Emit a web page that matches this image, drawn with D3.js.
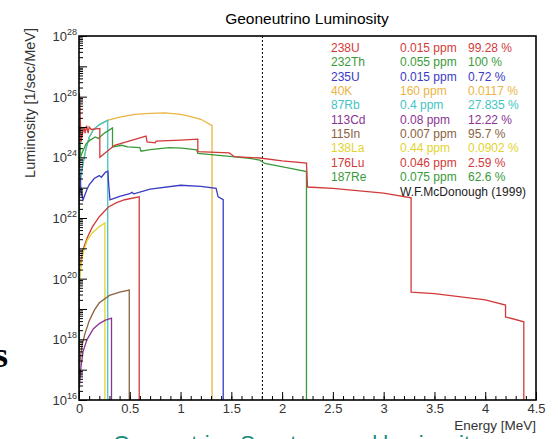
<!DOCTYPE html>
<html>
<head>
<meta charset="utf-8">
<script src="https://cdn.jsdelivr.net/npm/d3@7"></script>
<style>
body { margin: 0; background: #fff; }
svg { display: block; font-family: "Liberation Sans", Arial, sans-serif; }
</style>
</head>
<body>
<div id="chart"></div>
<script>
// legend table
const isotopes = ["238U", "232Th", "235U", "40K", "87Rb", "113Cd", "115In", "138La", "176Lu", "187Re"];
const abundance = ["0.015 ppm", "0.055 ppm", "0.015 ppm", "160 ppm", "0.4 ppm", "0.08 ppm", "0.007 ppm", "0.44 ppm", "0.046 ppm", "0.075 ppm"];
const isoFraction = ["99.28 %", "100 %", "0.72 %", "0.0117 %", "27.835 %", "12.22 %", "95.7 %", "0.0902 %", "2.59 %", "62.6 %"];
const colors = ["#d23a3a", "#3a9a3a", "#3a3ac4", "#eab444", "#44c4c4", "#8a3494", "#8a6242", "#e2d42e", "#d23a3a", "#3a9a3a"];

const xTicks = [0, 0.5, 1, 1.5, 2, 2.5, 3, 3.5, 4, 4.5];
const yExponents = [16, 18, 20, 22, 24, 26, 28];
const threshold = 1.806;

// spectra, [energy MeV, luminosity 1/sec/MeV]
const u238 = [[0, 3.2e25], [0.004, 1.3e26], [0.01, 4e25], [0.02, 3.2e24], [0.035, 6.3e24], [0.05, 1e25],
  [0.06, 6.3e24], [0.075, 1.1e25], [0.09, 6.3e24], [0.1, 1e25], [0.12, 8.3e24], [0.205, 9e24],
  [0.205, 1e24], [0.35, 2.5e24], [0.5, 3.5e24], [0.66, 5e24], [0.67, 3.2e24], [0.75, 3e24],
  [0.76, 3.4e24], [1.0, 3.7e24], [1.17, 4e24], [1.17, 1.55e24], [1.48, 1.4e24], [1.53, 1.05e24],
  [1.78, 9.5e23], [2.0, 7.6e23], [2.24, 6.4e23], [2.25, 1.05e23], [2.5, 9.5e22], [3.0, 6.6e22],
  [3.27, 4.6e22], [3.27, 3.6e19], [3.5, 3.2e19], [4.0, 2e19], [4.2, 1.35e19], [4.2, 5.5e18],
  [4.38, 3.8e18], [4.38, 1e16]];
const th232 = [[0, 4e25], [0.003, 1e26], [0.008, 1.6e25], [0.015, 1e24], [0.03, 1.4e24], [0.07, 2.8e24],
  [0.11, 3.7e24], [0.16, 4.7e24], [0.19, 4.2e24], [0.25, 6.3e24], [0.33, 9.3e24], [0.33, 2.2e24],
  [0.42, 2.5e24], [0.48, 2.2e24], [0.6, 2.1e24], [0.61, 1.6e24], [0.7, 1.8e24], [0.89, 2.1e24],
  [1.01, 2e24], [1.16, 1.75e24], [1.17, 1.35e24], [1.51, 1.05e24], [1.68, 9.3e23], [1.78, 8.1e23],
  [1.83, 6.3e23], [2.07, 4.4e23], [2.24, 3.4e23], [2.24, 1e16]];
const u235 = [[0.002, 2e24], [0.008, 3.2e23], [0.02, 8e22], [0.04, 4e22], [0.08, 9e22], [0.1, 1.25e23],
  [0.15, 2e23], [0.2, 2.5e23], [0.22, 2.2e23], [0.26, 3.2e23], [0.285, 3.5e23], [0.29, 1.6e23],
  [0.305, 4e22], [0.4, 5.2e22], [0.5, 6.3e22], [0.52, 7e22], [0.54, 6.3e22], [0.7, 9e22],
  [1.0, 1.2e23], [1.2, 1.1e23], [1.35, 9.5e22], [1.37, 5e22], [1.42, 4e22], [1.42, 1e16]];
const k40 = [[0.005, 6.3e22], [0.02, 2.5e23], [0.04, 6.3e23], [0.07, 2e24], [0.1, 4.5e24], [0.14, 8e24],
  [0.2, 1.2e25], [0.28, 1.66e25], [0.4, 2.1e25], [0.55, 2.6e25], [0.7, 2.8e25], [0.85, 2.9e25],
  [1.0, 2.6e25], [1.1, 2.2e25], [1.2, 1.8e25], [1.31, 1.1e25], [1.31, 1e16]];
const rb87 = [[0.005, 6.3e22], [0.02, 2.5e23], [0.04, 6.3e23], [0.07, 2e24], [0.1, 4.5e24], [0.14, 8e24],
  [0.2, 1.2e25], [0.283, 1.66e25], [0.283, 1e16]];
const cd113 = [[0.001, 1.3e16], [0.005, 3.2e16], [0.02, 1.3e17], [0.04, 4e17], [0.08, 1e18],
  [0.14, 2.2e18], [0.2, 3.3e18], [0.26, 4.3e18], [0.32, 5e18], [0.32, 1e16]];
const in115 = [[0.001, 4e16], [0.005, 1e17], [0.01, 2e17], [0.03, 6.3e17], [0.06, 1.6e18], [0.1, 4e18],
  [0.15, 9e18], [0.2, 1.6e19], [0.3, 2.8e19], [0.4, 3.6e19], [0.495, 4.2e19], [0.495, 1e16]];
const la138 = [[0.001, 1e19], [0.005, 8e19], [0.02, 3.2e20], [0.04, 7e20], [0.08, 1.8e21],
  [0.13, 3.2e21], [0.2, 5.2e21], [0.255, 6.9e21], [0.255, 1e16]];
const lu176 = [[0.001, 1e19], [0.005, 1e20], [0.02, 4e20], [0.04, 9e20], [0.08, 2.2e21], [0.13, 5e21],
  [0.2, 1.1e22], [0.29, 2.3e22], [0.37, 3.2e22], [0.45, 4e22], [0.593, 5e22], [0.593, 1e16]];
const re187 = [[0, 1e16], [0.0005, 6.3e25], [0.0026, 1e26], [0.0026, 1e16]];

const spectra = [u238, th232, u235, k40, rb87, cd113, in115, la138, lu176, re187];
const drawOrder = [3, 4, 2, 1, 0, 8, 7, 6, 5, 9];

const W = 558, H = 439;
const plotL = 79, plotR = 536, plotT = 36, plotB = 400;

const svg = d3.select("#chart").append("svg")
  .attr("width", W)
  .attr("height", H);

const x = d3.scaleLinear().domain([0, 4.5]).range([plotL, plotR]);
const y = d3.scaleLog().domain([1e16, 1e28]).range([plotB, plotT]);

svg.append("clipPath").attr("id", "plot")
  .append("rect").attr("x", plotL).attr("y", plotT).attr("width", plotR - plotL).attr("height", plotB - plotT);

// threshold line
svg.append("line")
  .attr("x1", x(threshold)).attr("x2", x(threshold))
  .attr("y1", plotT).attr("y2", plotB)
  .attr("stroke", "#000").attr("stroke-width", 1)
  .attr("stroke-dasharray", "2,2");

const line = d3.line().x(d => x(d[0])).y(d => y(d[1]));

const g = svg.append("g").attr("clip-path", "url(#plot)");
drawOrder.forEach(i => {
  g.append("path")
    .attr("d", line(spectra[i]))
    .attr("fill", "none")
    .attr("stroke", colors[i])
    .attr("stroke-width", 1.3);
});

// axes
const decades = d3.range(16, 29).map(e => Math.pow(10, e));
const minors = [];
for (let e = 16; e < 28; e++) {
  for (let k = 2; k <= 9; k++) minors.push(k * Math.pow(10, e));
}

const yMinor = svg.append("g").attr("transform", `translate(${plotL},0)`)
  .call(d3.axisLeft(y).tickValues(minors).tickSize(-4).tickFormat(""));
const yMajor = svg.append("g").attr("transform", `translate(${plotL},0)`)
  .call(d3.axisLeft(y).tickValues(decades).tickSize(-8).tickFormat(""));
[yMinor, yMajor].forEach(a => {
  a.select(".domain").remove();
  a.selectAll("line").attr("stroke", "#000");
});

yExponents.forEach(e => {
  const t = svg.append("text")
    .attr("x", plotL - 2)
    .attr("y", y(Math.pow(10, e)) + 5)
    .attr("text-anchor", "end")
    .attr("fill", "#333")
    .attr("font-size", 13);
  t.append("tspan").text("10");
  t.append("tspan").attr("dy", -6).attr("font-size", 9).text(e);
});

const minorX = d3.range(0, 45).map(i => i / 10);
const xMinor = svg.append("g").attr("transform", `translate(0,${plotB})`)
  .call(d3.axisBottom(x).tickValues(minorX).tickSize(-4).tickFormat(""));
const xMajor = svg.append("g").attr("transform", `translate(0,${plotB})`)
  .call(d3.axisBottom(x).tickValues(xTicks).tickSize(-8).tickPadding(4).tickFormat(d => d));
[xMinor, xMajor].forEach(a => {
  a.select(".domain").remove();
  a.selectAll("line").attr("stroke", "#000");
});
xMajor.selectAll("text")
  .attr("font-family", "Liberation Sans, Arial, sans-serif")
  .attr("font-size", 13)
  .attr("fill", "#333");

// frame
svg.append("rect")
  .attr("x", plotL).attr("y", plotT)
  .attr("width", plotR - plotL).attr("height", plotB - plotT)
  .attr("fill", "none").attr("stroke", "#000").attr("stroke-width", 1.6);

// titles
svg.append("text")
  .attr("x", 307).attr("y", 24)
  .attr("text-anchor", "middle")
  .attr("font-size", 15.5)
  .attr("fill", "#000")
  .text("Geoneutrino Luminosity");

svg.append("text")
  .attr("transform", "translate(35,28) rotate(-90)")
  .attr("text-anchor", "end")
  .attr("font-size", 14.5)
  .attr("fill", "#333")
  .text("Luminosity [1/sec/MeV]");

svg.append("text")
  .attr("x", plotR).attr("y", 430)
  .attr("text-anchor", "end")
  .attr("font-size", 13.5)
  .attr("fill", "#333")
  .text("Energy [MeV]");

// legend
const legend = svg.append("g").attr("font-size", 12);
isotopes.forEach((name, i) => {
  const yy = 52 + i * 14.35;
  legend.append("text").attr("x", 331).attr("y", yy).attr("fill", colors[i]).text(name);
  legend.append("text").attr("x", 400).attr("y", yy).attr("fill", colors[i]).text(abundance[i]);
  legend.append("text").attr("x", 468).attr("y", yy).attr("fill", colors[i]).text(isoFraction[i]);
});
legend.append("text").attr("x", 400).attr("y", 52 + 10 * 14.35).attr("fill", "#222").text("W.F.McDonough (1999)");

// surrounding slide text
svg.append("text")
  .attr("x", 8).attr("y", 367)
  .attr("text-anchor", "end")
  .attr("font-family", "Liberation Serif, serif")
  .attr("font-weight", "bold")
  .attr("font-size", 36)
  .text("s");

svg.append("text")
  .attr("x", 113).attr("y", 451)
  .attr("font-size", 22)
  .attr("fill", "#1a8a7e")
  .text("Geoneutrino Spectrum and luminosity");
</script>
</body>
</html>
